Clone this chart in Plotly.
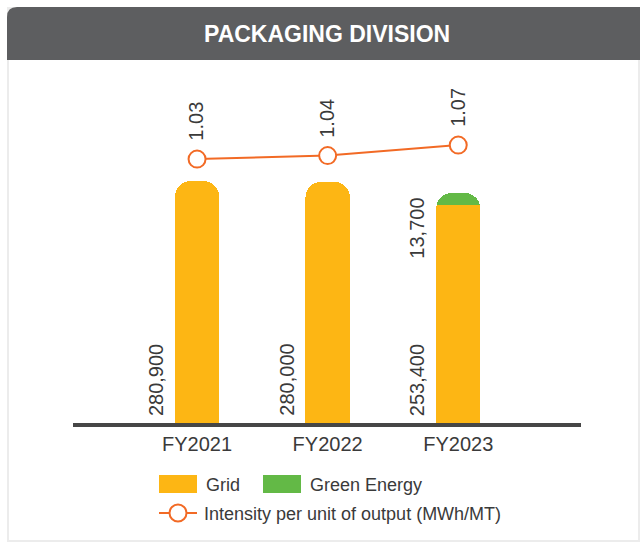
import plotly.graph_objects as go

# Energy consumption by source (MWh) and intensity per unit of output
years = ["FY2021", "FY2022", "FY2023"]
grid_mwh = [280900, 280000, 253400]
green_mwh = [0, 0, 13700]
intensity = [1.03, 1.04, 1.07]

W, H = 640, 543
FONT = "Liberation Sans, Arial, sans-serif"
TEXT = "#3a3a3a"
ORANGE = "#FDB614"
GREEN = "#63B946"
LINE = "#F26A25"
HEADER = "#5D5E60"


def px(x):
    return x / W


def py(y):
    return 1 - y / H


fig = go.Figure()

fig.add_trace(go.Bar(
    x=years, y=grid_mwh, name="Grid",
    marker=dict(color=ORANGE, line=dict(width=0)),
    width=0.34, showlegend=False, hoverinfo="x+y",
))
fig.add_trace(go.Bar(
    x=years, y=green_mwh, name="Green Energy",
    marker=dict(color=GREEN, line=dict(width=0)),
    width=0.34, showlegend=False, hoverinfo="x+y",
))
fig.add_trace(go.Scatter(
    x=years, y=intensity, yaxis="y2", mode="lines+markers",
    name="Intensity per unit of output (MWh/MT)",
    line=dict(color=LINE, width=2),
    marker=dict(symbol="circle", size=17, color="white",
                line=dict(color=LINE, width=2)),
    showlegend=False,
))

annotations = []
# value labels beside each bar
for yr, g, e in zip(years, grid_mwh, green_mwh):
    annotations.append(dict(
        x=yr, y=0, xref="x", yref="y", text=f"{g:,}", textangle=-90,
        showarrow=False, xshift=-41, yanchor="bottom", yshift=5,
        font=dict(size=20, color=TEXT, family=FONT),
    ))
    if e:
        annotations.append(dict(
            x=yr, y=g + e, xref="x", yref="y", text=f"{e:,}", textangle=-90,
            showarrow=False, xshift=-41, yanchor="top", yshift=-3,
            font=dict(size=20, color=TEXT, family=FONT),
        ))
# intensity labels above markers
for yr, v in zip(years, intensity):
    annotations.append(dict(
        x=yr, y=v, xref="x", yref="y2", text=f"{v:.2f}", textangle=-90,
        showarrow=False, yanchor="bottom", yshift=16, xshift=-1,
        font=dict(size=20, color=TEXT, family=FONT),
    ))

# title in header band
annotations.append(dict(
    x=px(327), y=py(34), xref="paper", yref="paper", text="<b>PACKAGING DIVISION</b>",
    showarrow=False, font=dict(size=23, color="white", family=FONT),
    xanchor="center", yanchor="middle",
))

# legend entries
legend_font = dict(size=18, color=TEXT, family=FONT)
annotations += [
    dict(x=px(204), y=py(485), xref="paper", yref="paper", text="Grid",
         showarrow=False, xanchor="left", yanchor="middle", font=legend_font),
    dict(x=px(308), y=py(485), xref="paper", yref="paper", text="Green Energy",
         showarrow=False, xanchor="left", yanchor="middle", font=legend_font),
    dict(x=px(202), y=py(514), xref="paper", yref="paper",
         text="Intensity per unit of output (MWh/MT)",
         showarrow=False, xanchor="left", yanchor="middle", font=legend_font),
]

shapes = [
    # card outline
    dict(type="rect", xref="paper", yref="paper", x0=px(8), x1=px(639),
         y0=py(541), y1=py(8), line=dict(color="#ECECEC", width=2),
         fillcolor="white", layer="below"),
    # header band with rounded top-left corner
    dict(type="path", xref="paper", yref="paper",
         path=(f"M {px(7)},{py(60)} L {px(7)},{py(17)} "
               f"Q {px(7)},{py(7)} {px(17)},{py(7)} "
               f"L {px(640)},{py(7)} L {px(640)},{py(60)} Z"),
         fillcolor=HEADER, line=dict(width=0), layer="below"),
    # legend swatches
    dict(type="rect", xref="paper", yref="paper", x0=px(159), x1=px(197),
         y0=py(493), y1=py(475), fillcolor=ORANGE, line=dict(width=0)),
    dict(type="rect", xref="paper", yref="paper", x0=px(263), x1=px(301),
         y0=py(493), y1=py(475), fillcolor=GREEN, line=dict(width=0)),
    dict(type="line", xref="paper", yref="paper", x0=px(159), x1=px(197),
         y0=py(513), y1=py(513), line=dict(color=LINE, width=2)),
    dict(type="circle", xref="paper", yref="paper", x0=px(169.5), x1=px(186.5),
         y0=py(521.5), y1=py(504.5), fillcolor="white",
         line=dict(color=LINE, width=2)),
]

fig.update_layout(
    width=W, height=H,
    margin=dict(l=0, r=0, t=0, b=0),
    paper_bgcolor="white", plot_bgcolor="rgba(0,0,0,0)",
    barmode="stack", barcornerradius=16,
    font=dict(family=FONT, color=TEXT),
    xaxis=dict(
        domain=[px(73), px(581)], range=[-0.95, 2.94],
        showline=True, linecolor="#464646", linewidth=4,
        showgrid=False, zeroline=False, ticks="",
        tickfont=dict(size=20, color=TEXT, family=FONT),
    ),
    yaxis=dict(
        domain=[py(423), py(80)], range=[0, 398150],
        visible=False, showgrid=False, zeroline=False,
    ),
    yaxis2=dict(
        domain=[py(423), py(80)], range=[0.276, 1.256], overlaying="y",
        visible=False, showgrid=False, zeroline=False,
    ),
    annotations=annotations,
    shapes=shapes,
    showlegend=False,
)

fig.write_html("out.html")
